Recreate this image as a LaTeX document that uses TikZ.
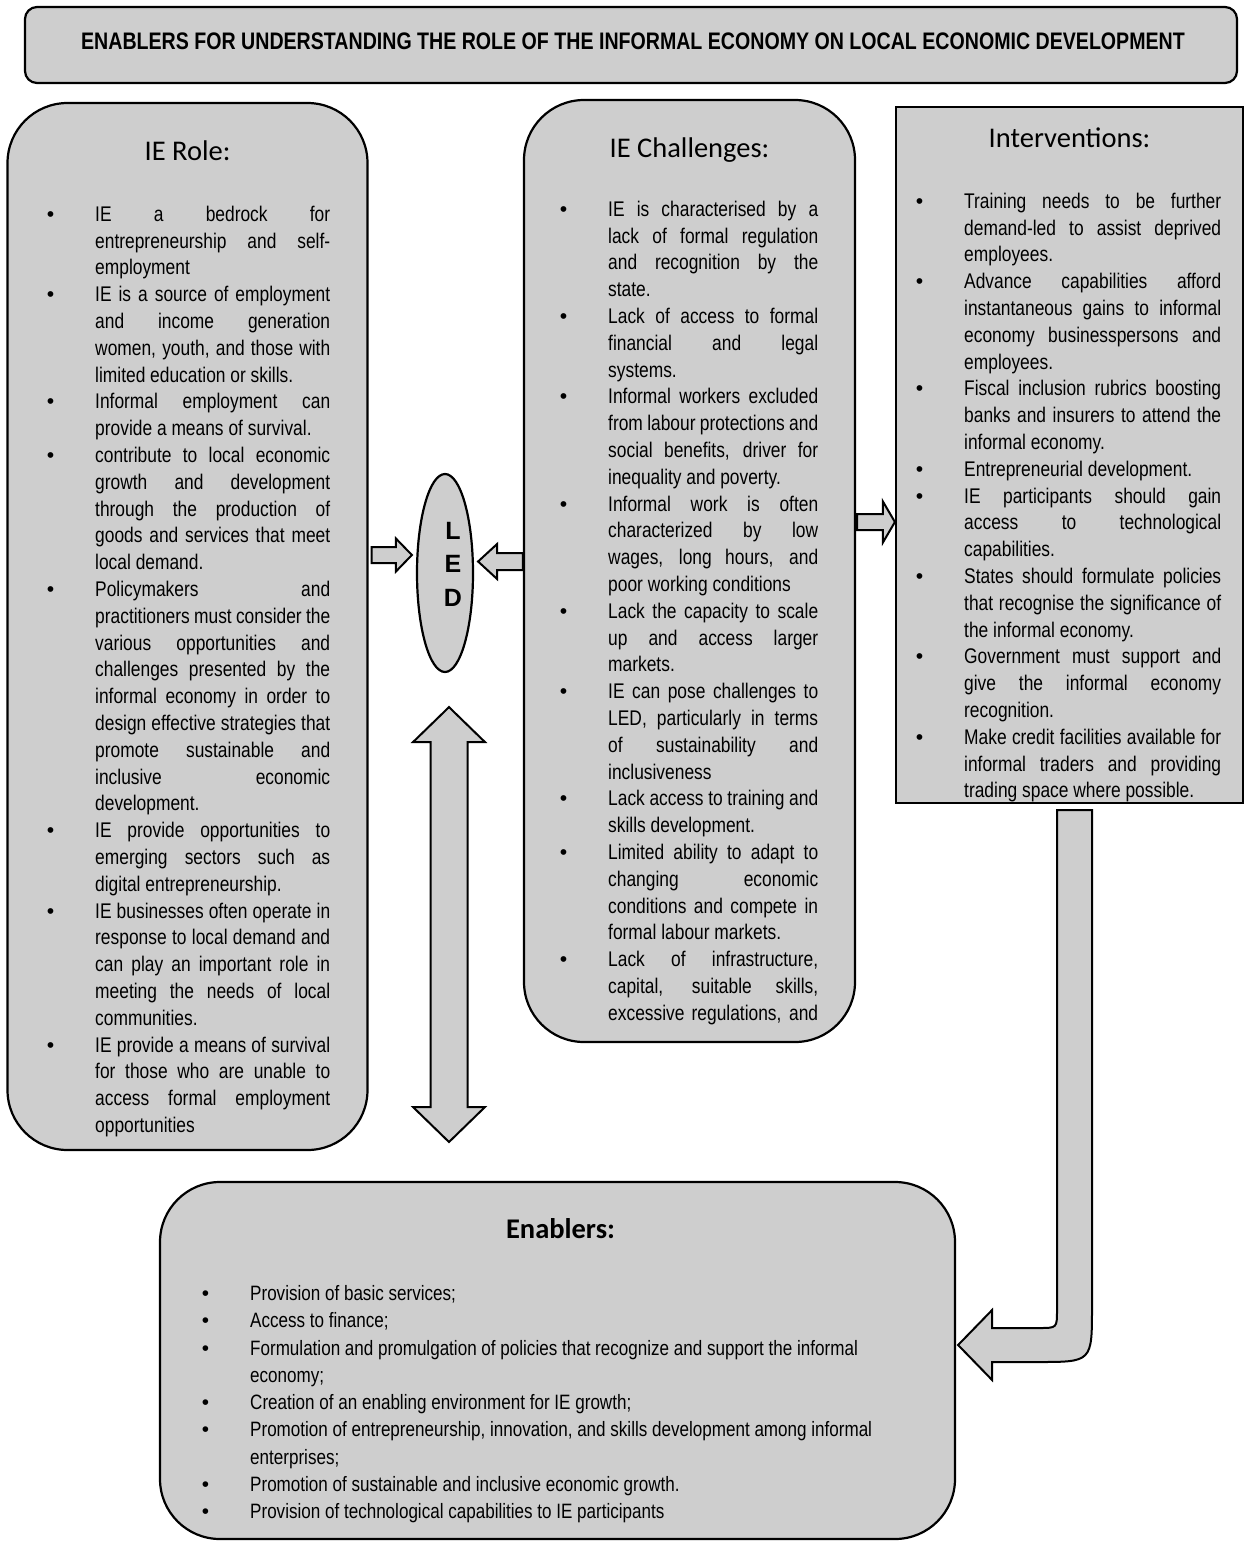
\documentclass[tikz,border=0pt]{standalone}
\usepackage{fontspec}
\setmainfont{Liberation Sans}[FakeStretch=0.82]
\newfontfamily\headfont{Carlito}
\newfontfamily\ledfont{Liberation Sans}
\usetikzlibrary{calc,shapes.geometric}
\definecolor{boxgray}{RGB}{206,206,206}
\def\bul{\par\noindent\llap{{\ledfont\textbullet}\hspace{41pt}}\strut}
\def\hblockarrow(#1)(#2)#3#4#5{\draw[blockarrow] let \p1=(#1), \p2=(#2) in (\x1,{\y1+#3}) -- ({\x2-(#5)},{\y1+#3}) -- ({\x2-(#5)},{\y1+#4}) -- (\x2,\y1) -- ({\x2-(#5)},{\y1-#4}) -- ({\x2-(#5)},{\y1-#3}) -- (\x1,{\y1-#3}) -- cycle;}
\tikzset{
	boxfill/.style={draw=black, line width=2.2pt, fill=boxgray},
	roundbox/.style={boxfill, rounded corners=60pt, inner sep=0pt},
	blockarrow/.style={draw=black, line width=2pt, fill=boxgray, line join=miter},
	headtext/.style={font=\headfont\fontsize{28.5}{34}\selectfont, anchor=base},
	listtext/.style={align=justify, anchor=north west, inner sep=0pt, font=\fontsize{21.2}{26.8}\selectfont}
}
\begin{document}
\begin{tikzpicture}[x=1pt, y=-1pt]
		%%%%% START %%%%%
		\useasboundingbox (0,0) rectangle (1246,1543);
		
		\node[roundbox, rounded corners=12pt, minimum width=1212pt, minimum height=76pt] (titleBox) at (631,45) {};
		\node[font=\bfseries\fontsize{23.9}{28}\selectfont, anchor=base] (titleText) at (633,49) {ENABLERS FOR UNDERSTANDING THE ROLE OF THE INFORMAL ECONOMY ON LOCAL ECONOMIC DEVELOPMENT};
		
		\node[roundbox, minimum width=360pt, minimum height=1047pt] (roleBox) at (187.5,626.5) {};
		\node[roundbox, minimum width=331pt, minimum height=942pt] (chalBox) at (689.5,571) {};
		\node[boxfill, inner sep=0pt, minimum width=347pt, minimum height=696pt] (intBox) at (1069.5,455) {};
		\node[roundbox, minimum width=795pt, minimum height=357pt] (enabBox) at (557.5,1360.5) {};
		\node[ellipse, boxfill, inner sep=0pt, minimum width=56pt, minimum height=198pt] (led) at (445,573) {};
		\node[font=\ledfont\bfseries\fontsize{25}{33.5}\selectfont, align=center] (ledText) at ($(led.center)+(8,-9)$) {L\\E\\D};
		
		\node[headtext] (roleHead) at (roleBox.north |- 0,160) {IE Role:};
		\node[headtext] (chalHead) at (chalBox.north |- 0,157) {IE Challenges:};
		\node[headtext] (intHead) at (intBox.north |- 0,147) {Interventions:};
		\node[headtext, font=\headfont\bfseries\fontsize{28.5}{34}\selectfont] (enabHead) at ($(enabBox.north |- 0,1238)+(3,0)$) {Enablers:};
		
		\node[listtext, text width=235pt] (roleText) at (95,194.2) {%
			\bul IE a bedrock for\linebreak entrepreneurship and self-\linebreak employment
			\bul IE is a source of employment\linebreak and income generation\linebreak women, youth, and those with\linebreak limited education or skills.
			\bul Informal employment can\linebreak provide a means of survival.
			\bul contribute to local economic\linebreak growth and development\linebreak through the production of\linebreak goods and services that meet\linebreak local demand.
			\bul Policymakers and\linebreak practitioners must consider the\linebreak various opportunities and\linebreak challenges presented by the\linebreak informal economy in order to\linebreak design effective strategies that\linebreak promote sustainable and\linebreak inclusive economic\linebreak development.
			\bul IE provide opportunities to\linebreak emerging sectors such as\linebreak digital entrepreneurship.
			\bul IE businesses often operate in\linebreak response to local demand and\linebreak can play an important role in\linebreak meeting the needs of local\linebreak communities.
			\bul IE provide a means of survival\linebreak for those who are unable to\linebreak access formal employment\linebreak opportunities};
		
		\node[listtext, text width=210pt] (chalText) at (608,189.2) {%
			\bul IE is characterised by a\linebreak lack of formal regulation\linebreak and recognition by the\linebreak state.
			\bul Lack of access to formal\linebreak financial and legal\linebreak systems.
			\bul Informal workers excluded\linebreak from labour protections and\linebreak social benefits, driver for\linebreak inequality and poverty.
			\bul Informal work is often\linebreak characterized by low\linebreak wages, long hours, and\linebreak poor working conditions
			\bul Lack the capacity to scale\linebreak up and access larger\linebreak markets.
			\bul IE can pose challenges to\linebreak LED, particularly in terms\linebreak of sustainability and\linebreak inclusiveness
			\bul Lack access to training and\linebreak skills development.
			\bul Limited ability to adapt to\linebreak changing economic\linebreak conditions and compete in\linebreak formal labour markets.
			\bul Lack of infrastructure,\linebreak capital, suitable skills,\linebreak excessive regulations, and{\parfillskip=0pt\par}};
		
		\node[listtext, text width=257pt] (intText) at (964,181.2) {%
			\bul Training needs to be further\linebreak demand-led to assist deprived\linebreak employees.
			\bul Advance capabilities afford\linebreak instantaneous gains to informal\linebreak economy businesspersons and\linebreak employees.
			\bul Fiscal inclusion rubrics boosting\linebreak banks and insurers to attend the\linebreak informal economy.
			\bul Entrepreneurial development.
			\bul IE participants should gain\linebreak access to technological\linebreak capabilities.
			\bul States should formulate policies\linebreak that recognise the significance of\linebreak the informal economy.
			\bul Government must support and\linebreak give the informal economy\linebreak recognition.
			\bul Make credit facilities available for\linebreak informal traders and providing\linebreak trading space where possible.};
		
		\node[listtext, align=flush left, text width=700pt, font=\fontsize{20.8}{27.3}\selectfont] (enabText) at (250,1272.9) {%
			\bul Provision of basic services;
			\bul Access to finance;
			\bul Formulation and promulgation of policies that recognize and support the informal\newline economy;
			\bul Creation of an enabling environment for IE growth;
			\bul Promotion of entrepreneurship, innovation, and skills development among informal\newline enterprises;
			\bul Promotion of sustainable and inclusive economic growth.
			\bul Provision of technological capabilities to IE participants};
		
		%%%%% ARROWS %%%%%
		\coordinate (roleOut) at ($(roleBox.east |- 0,555)+(3,0)$);
		\coordinate (ledInL) at ($(led.west |- 0,555)+(-4,0)$);
		\hblockarrow(roleOut)(ledInL){8pt}{16.5pt}{16pt}
		
		\coordinate (chalOut) at (chalBox.west |- 0,561.5);
		\coordinate (ledInR) at ($(led.east |- 0,561.5)+(4,0)$);
		\hblockarrow(chalOut)(ledInR){8.5pt}{17.5pt}{-19pt}
		
		\coordinate (chalOutR) at ($(chalBox.east |- 0,522)+(1,0)$);
		\coordinate (intIn) at (intBox.west |- 0,522);
		\hblockarrow(chalOutR)(intIn){8pt}{20.5pt}{12pt}
		
		\coordinate (dblTop) at ($(led.south)+(4,34)$);
		\coordinate (dblBot) at (dblTop |- 0,1142);
		\draw[blockarrow] let \p1=(dblTop), \p2=(dblBot) in (\x1,\y1) -- (\x1+36pt,\y1-35pt) -- (\x1+18.5pt,\y1-35pt) -- (\x2+18.5pt,\y2+35pt) -- (\x2+36pt,\y2+35pt) -- (\x2,\y2) -- (\x2-36pt,\y2+35pt) -- (\x2-18.5pt,\y2+35pt) -- (\x1-18.5pt,\y1-35pt) -- (\x1-36pt,\y1-35pt) -- cycle;
		
		\coordinate (bendTop) at ($(intBox.south)+(5,6)$);
		\coordinate (bendTip) at ($(enabBox.east |- 0,1345)+(2,0)$);
		\draw[blockarrow] let \p1=(bendTop), \p2=(bendTip) in (\x1-17.5pt,\y1) -- (\x1-17.5pt,\y2+35pt) .. controls (\x1-17.5pt,\y2+17pt) .. (\x1-35.5pt,\y2+17pt) -- (\x2+34pt,\y2+17pt) -- (\x2+34pt,\y2+35pt) -- (\x2,\y2) -- (\x2+34pt,\y2-35pt) -- (\x2+34pt,\y2-17pt) -- (\x1-37pt,\y2-17pt) .. controls (\x1+17.5pt,\y2-17pt) .. (\x1+17.5pt,\y2+38pt) -- (\x1+17.5pt,\y1) -- cycle;
		
		%%%%% END %%%%%
\end{tikzpicture}
\end{document}
